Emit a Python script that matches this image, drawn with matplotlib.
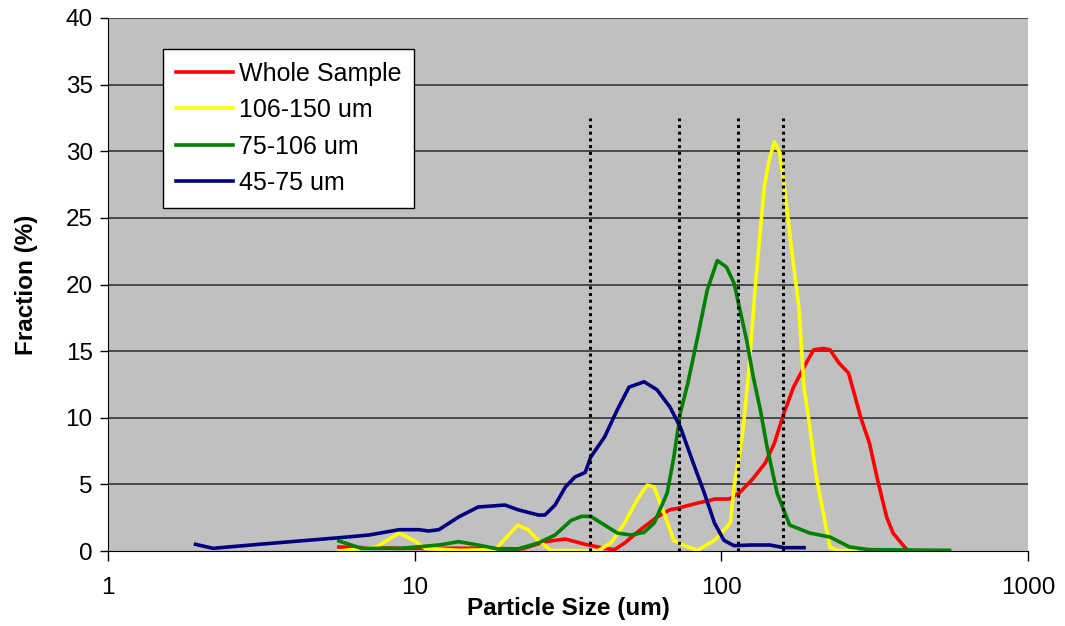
import matplotlib
matplotlib.use("Agg")
from matplotlib import pyplot as plt

plt.rcParams['font.family'] = ['Liberation Sans', 'DejaVu Sans']

# Whole Sample
whole_x = [5.66, 7, 9, 12, 17.4, 22.3, 26.6, 31, 36, 41.6, 44.8, 48.4, 54.5, 61.7, 68, 72, 79,
           83.6, 92, 95, 106, 115, 127, 139, 149, 160, 172, 186, 200, 215, 226, 242, 260,
           271, 285, 304, 325, 346, 363, 399, 410]
whole_y = [0.3, 0.25, 0.2, 0.2, 0.2, 0.15, 0.7, 0.9, 0.5, 0.2, 0.1, 0.6, 1.6, 2.55, 3.1, 3.2, 3.45,
           3.6, 3.8, 3.9, 3.9, 4.4, 5.45, 6.6, 8.1, 10.35, 12.3, 13.8, 15.1, 15.2, 15.1, 14.1, 13.35,
           11.85, 10.0, 8.1, 5.1, 2.55, 1.35, 0.2, 0.0]

# 106-150 um
y106_x = [5.66, 7.5, 8.9, 10.1, 10.8, 14, 18.3, 21.7, 23.4, 25.3, 27.8, 39.5, 43.6, 48.4, 53,
          57.3, 60.4, 65, 70, 76, 83.6, 95, 107, 110, 117, 123, 129, 138, 143, 149, 155, 160,
          170, 179, 186, 193, 203, 215, 226, 237, 275]
y106_y = [0.0, 0.3, 1.35, 0.7, 0.2, 0.05, 0.1, 1.95, 1.6, 0.8, 0.05, 0.0, 0.6, 2.1, 3.8,
          4.95, 4.8, 2.85, 0.8, 0.4, 0.05, 0.8, 2.1, 4.8, 8.55, 13.6, 19.8, 27.3, 29.3, 30.7, 29.9, 27.6,
          22.4, 18.3, 12.3, 9.8, 5.85, 2.85, 0.3, 0.05, 0.0]

# 75-106 um
y75_x = [5.66, 6.7, 9, 12, 13.9, 16.1, 18.7, 21.7, 25.3, 28.7, 32.4, 35, 37.5, 41.6, 45.8,
         50.6, 56, 60.4, 66.6, 70, 73.5, 77.6, 83.6, 90, 97, 104, 110, 115, 121, 127, 134,
         141, 152, 167, 194, 226, 262, 304, 555]
y75_y = [0.75, 0.2, 0.2, 0.45, 0.7, 0.45, 0.15, 0.15, 0.6, 1.2, 2.3, 2.6, 2.6, 1.95, 1.35,
         1.2, 1.4, 2.1, 4.35, 7.05, 10.35, 12.5, 16.0, 19.6, 21.8, 21.3, 20.1, 18.1, 15.8, 13.1, 10.6,
         7.8, 4.35, 1.95, 1.35, 1.05, 0.3, 0.1, 0.05]

# 45-75 um
y45_x = [1.93, 2.2, 3.1, 4.2, 5.7, 7.1, 8.9, 10.3, 11.1, 12, 13.9, 16.1, 19.7, 21.7, 25.3,
         26.6, 28.7, 31, 33.3, 36, 37.5, 41.6, 45.8, 50, 56, 61.7, 68, 73.5, 81, 88, 95,
         102, 110, 125, 144, 160, 186]
y45_y = [0.5, 0.2, 0.5, 0.75, 1.0, 1.2, 1.6, 1.6, 1.5, 1.6, 2.55, 3.3, 3.45, 3.1, 2.7,
         2.7, 3.45, 4.8, 5.55, 5.9, 7.05, 8.55, 10.6, 12.3, 12.7, 12.1, 10.8, 9.3, 6.6, 4.35, 2.1,
         0.8, 0.4, 0.45, 0.45, 0.25, 0.25]

cut_sizes = [37.4, 72.8, 113.5, 159]
cut_top = 32.5

fig = plt.figure(figsize=(10.65, 6.26), dpi=100)
ax = fig.add_axes([108 / 1065, 75 / 626, 920 / 1065, 533 / 626])
ax.set_facecolor("#C0C0C0")

for v in [5, 10, 15, 20, 25, 30, 35, 40]:
    ax.axhline(v, color="#404040", linewidth=1.3, zorder=1)

lw = 2.6
ax.plot(whole_x, whole_y, color="#FF0000", linewidth=lw, label="Whole Sample", zorder=3)
ax.plot(y106_x, y106_y, color="#FFFF00", linewidth=lw, label="106-150 um", zorder=3)
ax.plot(y75_x, y75_y, color="#008000", linewidth=lw, label="75-106 um", zorder=3)
ax.plot(y45_x, y45_y, color="#000080", linewidth=lw, label="45-75 um", zorder=3)

for c in cut_sizes:
    ax.plot([c, c], [0, cut_top], color="black", linestyle=(0, (1, 1.2)), linewidth=2.2, zorder=4)

ax.set_xscale("log")
ax.set_xlim(1, 1000)
ax.set_ylim(0, 40)
ax.set_xticks([1, 10, 100, 1000])
ax.set_xticklabels(["1", "10", "100", "1000"])
ax.xaxis.set_minor_locator(matplotlib.ticker.NullLocator())
ax.set_yticks(range(0, 41, 5))

ax.tick_params(axis="x", length=7, width=1, pad=12, labelsize=17.5, direction="out")
ax.tick_params(axis="y", length=6, width=1, pad=5, labelsize=17.5, direction="out")

ax.spines["top"].set_visible(False)
ax.spines["right"].set_visible(False)
ax.spines["left"].set_color("black")
ax.spines["bottom"].set_color("black")

ax.set_xlabel("Particle Size (um)", fontsize=17.5, fontweight="bold", labelpad=-2)
ax.set_ylabel("Fraction (%)", fontsize=17.5, fontweight="bold", labelpad=20)

leg = ax.legend(loc="upper left", bbox_to_anchor=(55 / 920, 502 / 533), borderaxespad=0,
                fontsize=18, frameon=True, fancybox=False, edgecolor="black", framealpha=1,
                handlelength=2.3, handletextpad=0.25, labelspacing=0.5, borderpad=0.5)
leg.get_frame().set_linewidth(1)
leg.set_zorder(5)

fig.savefig("out.png", dpi=100)
